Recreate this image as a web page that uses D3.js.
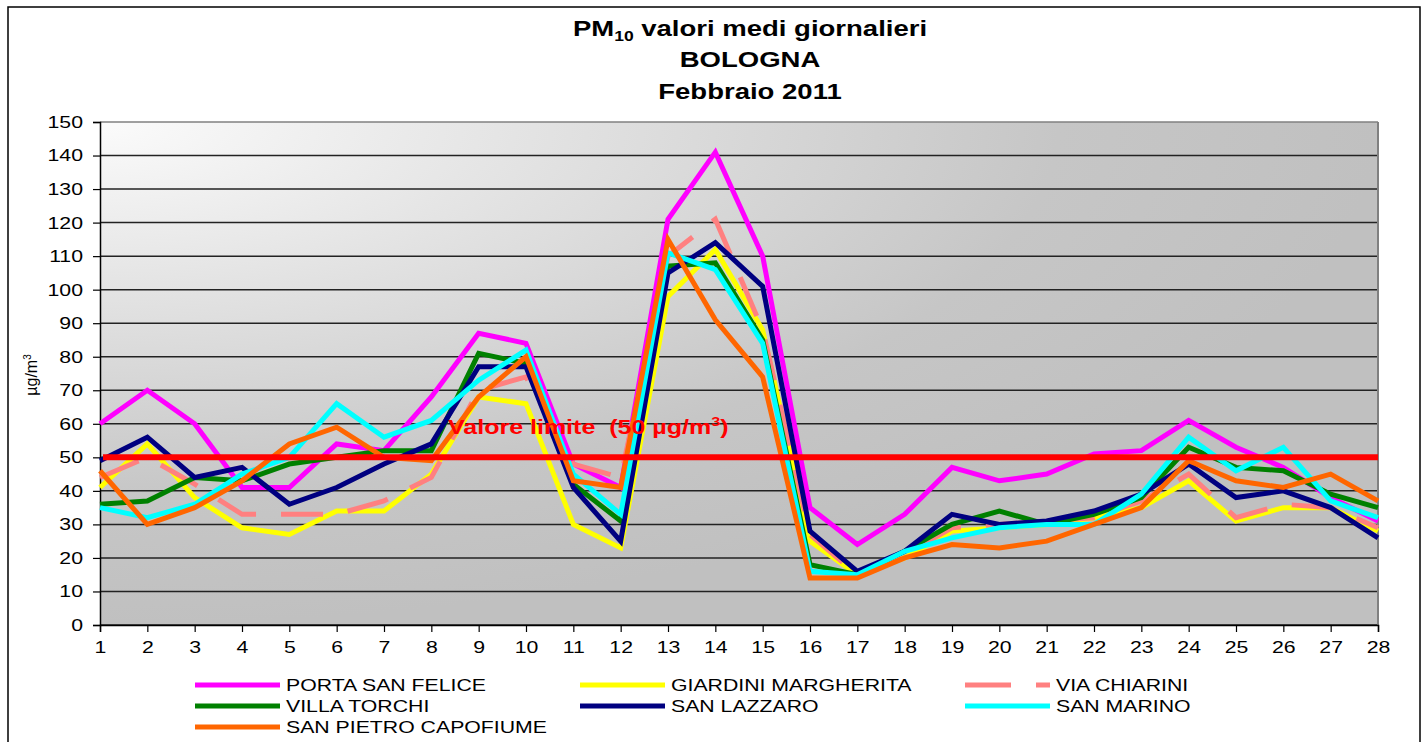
<!DOCTYPE html>
<html>
<head>
<meta charset="utf-8">
<script src="https://cdn.jsdelivr.net/npm/d3@7"></script>
<style>
  body { margin: 0; background: #fff; }
  text { font-family: Arial, "Liberation Sans", sans-serif; }
</style>
</head>
<body>
<div id="chart"></div>
<script>
// giorni del mese
var days = d3.range(1, 29);
var yTicks = d3.range(0, 151, 10);

var portaSanFelice = [60,70,60,41,41,54,52,68,87,84,48,41,121,141,110,35,24,33,47,43,45,51,52,61,53,47,38,31];
var giardiniMargherita = [41,54,38,29,27,34,34,45,68,66,30,23,98,112,88,25,15,20,28,29,30,32,35,43,31,35,35,28];
var viaChiarini = [44,50,42,33,33,33,37,44,70,74,48,44,110,121,88,27,15,21,29,30,31,32,37,45,32,36,35,29];
var villaTorchi = [36,37,44,43,48,50,52,52,81,78,42,31,107,108,85,18,15,22,30,34,30,33,38,53,47,46,39,35];
var sanLazzaro = [49,56,44,47,36,41,48,54,77,77,41,25,105,114,101,28,16,22,33,30,31,34,39,48,38,40,35,26];
var sanMarino = [35,32,36,45,50,66,56,61,73,82,45,33,111,106,84,16,15,22,26,29,30,30,39,56,46,53,37,32];
var sanPietroCapofiume = [46,30,35,43,54,59,50,49,68,80,43,41,115,91,74,14,14,20,24,23,25,30,35,49,43,41,45,37];
var limite = 50;

(function() {
  var series = [
    {name: "PORTA SAN FELICE", color: "#ff00ff", values: portaSanFelice},
    {name: "GIARDINI MARGHERITA", color: "#ffff00", values: giardiniMargherita},
    {name: "VIA CHIARINI", color: "#ff8080", values: viaChiarini, dash: "42,25"},
    {name: "VILLA TORCHI", color: "#008000", values: villaTorchi},
    {name: "SAN LAZZARO", color: "#000080", values: sanLazzaro},
    {name: "SAN MARINO", color: "#00ffff", values: sanMarino},
    {name: "SAN PIETRO CAPOFIUME", color: "#ff6600", values: sanPietroCapofiume}
  ];

  var width = 1427, height = 742;
  var pLeft = 100, pRight = 1378, pTop = 122, pBottom = 625;
  var stretchK = 1.25;

  var svg = d3.select("#chart").append("svg")
      .attr("width", width)
      .attr("height", height);

  // allarga il testo in orizzontale come nell'originale
  function stretch(sel) {
    sel.each(function() {
      var l = this.getComputedTextLength();
      d3.select(this).attr("textLength", l * stretchK).attr("lengthAdjust", "spacingAndGlyphs");
    });
  }

  svg.append("rect")
      .attr("x", 8).attr("y", 7)
      .attr("width", 1412).attr("height", 760)
      .attr("fill", "#fff")
      .attr("stroke", "#000").attr("stroke-width", 1.5);

  var defs = svg.append("defs");
  var grad = defs.append("radialGradient")
      .attr("id", "bg")
      .attr("cx", 0).attr("cy", 0).attr("r", 1)
      .attr("fx", 0).attr("fy", 0);
  grad.append("stop").attr("offset", "0").attr("stop-color", "#fbfbfb");
  grad.append("stop").attr("offset", "0.75").attr("stop-color", "#c6c6c6");
  grad.append("stop").attr("offset", "1").attr("stop-color", "#c0c0c0");

  var x = d3.scalePoint().domain(days).range([pLeft, pRight]);
  var y = d3.scaleLinear().domain([0, 150]).range([pBottom, pTop]);

  svg.append("rect")
      .attr("x", pLeft).attr("y", pTop)
      .attr("width", pRight - pLeft).attr("height", pBottom - pTop)
      .attr("fill", "url(#bg)");

  // griglia
  svg.selectAll(".grid")
      .data(yTicks)
      .enter().append("line")
      .attr("class", "grid")
      .attr("x1", pLeft).attr("x2", pRight)
      .attr("y1", function(d) { return y(d); })
      .attr("y2", function(d) { return y(d); })
      .attr("stroke", function(d) { return d === 150 ? "#808080" : "#222"; })
      .attr("stroke-width", 1.5);

  svg.append("line")
      .attr("x1", pRight).attr("x2", pRight)
      .attr("y1", pTop).attr("y2", pBottom)
      .attr("stroke", "#808080").attr("stroke-width", 2);

  // assi
  var yAxis = svg.append("g")
      .attr("transform", "translate(" + pLeft + ",0)")
      .call(d3.axisLeft(y).tickValues(yTicks).tickSize(7).tickPadding(10));
  var xAxis = svg.append("g")
      .attr("transform", "translate(0," + pBottom + ")")
      .call(d3.axisBottom(x).tickSize(7).tickPadding(6));

  [yAxis, xAxis].forEach(function(a) {
    a.select(".domain").attr("stroke", "#000").attr("stroke-width", 1.5);
    a.selectAll(".tick line").attr("stroke", "#000").attr("stroke-width", 1.2);
    a.selectAll("text")
      .attr("font-size", "17px")
      .attr("fill", "#000")
      .style("font-family", "Arial, 'Liberation Sans', sans-serif");
  });
  xAxis.selectAll("text").attr("dy", "0.9em");
  yAxis.selectAll("text").call(stretch);
  xAxis.selectAll("text").call(stretch);

  var line = d3.line()
      .x(function(d, i) { return x(days[i]); })
      .y(function(d) { return y(d); });

  svg.selectAll(".serie")
      .data(series)
      .enter().append("path")
      .attr("class", "serie")
      .attr("d", function(d) { return line(d.values); })
      .attr("fill", "none")
      .attr("stroke", function(d) { return d.color; })
      .attr("stroke-width", 5)
      .attr("stroke-linejoin", "miter")
      .attr("stroke-dasharray", function(d) { return d.dash || null; });

  // valore limite
  svg.append("line")
      .attr("x1", pLeft + 3).attr("x2", pRight)
      .attr("y1", y(limite)).attr("y2", y(limite))
      .attr("stroke", "#ff0000").attr("stroke-width", 6);

  var lim = svg.append("text")
      .attr("x", 448).attr("y", y(limite) - 23)
      .attr("fill", "#ff0000")
      .attr("font-weight", "bold")
      .attr("font-size", "20px")
      .attr("xml:space", "preserve");
  lim.append("tspan").text("Valore limite  (50 µg/m");
  lim.append("tspan").attr("font-size", "13px").attr("dy", "-8").text("3");
  lim.append("tspan").attr("dy", "8").text(")");
  lim.call(stretch);

  // titolo
  var t1 = svg.append("text")
      .attr("x", 750).attr("y", 36)
      .attr("text-anchor", "middle")
      .attr("font-weight", "bold").attr("font-size", "22px");
  t1.append("tspan").text("PM");
  t1.append("tspan").attr("font-size", "14px").attr("dy", "5").text("10");
  t1.append("tspan").attr("dy", "-5").text(" valori medi giornalieri");
  t1.call(stretch);

  svg.append("text")
      .attr("x", 750).attr("y", 67)
      .attr("text-anchor", "middle")
      .attr("font-weight", "bold").attr("font-size", "22px")
      .text("BOLOGNA")
      .call(stretch);

  svg.append("text")
      .attr("x", 750).attr("y", 99)
      .attr("text-anchor", "middle")
      .attr("font-weight", "bold").attr("font-size", "22px")
      .text("Febbraio 2011")
      .call(stretch);

  // titolo asse y
  var yt = svg.append("text")
      .attr("transform", "translate(37,375) rotate(-90)")
      .attr("text-anchor", "middle")
      .attr("font-size", "16px");
  yt.append("tspan").text("µg/m");
  yt.append("tspan").attr("font-size", "10px").attr("dy", "-6").text("3");

  // legenda
  var legX = [195, 580, 965];
  var legY = [685, 706, 727];
  var leg = svg.selectAll(".leg")
      .data(series)
      .enter().append("g")
      .attr("class", "leg")
      .attr("transform", function(d, i) {
        return "translate(" + legX[i % 3] + "," + legY[Math.floor(i / 3)] + ")";
      });
  leg.append("line")
      .attr("x1", 0).attr("x2", 85)
      .attr("stroke", function(d) { return d.color; })
      .attr("stroke-width", 5)
      .attr("stroke-dasharray", function(d) { return d.dash ? "46,25" : null; });
  leg.append("text")
      .attr("x", 91).attr("y", 6)
      .attr("font-size", "17px")
      .text(function(d) { return d.name; })
      .call(stretch);
})();
</script>
</body>
</html>
